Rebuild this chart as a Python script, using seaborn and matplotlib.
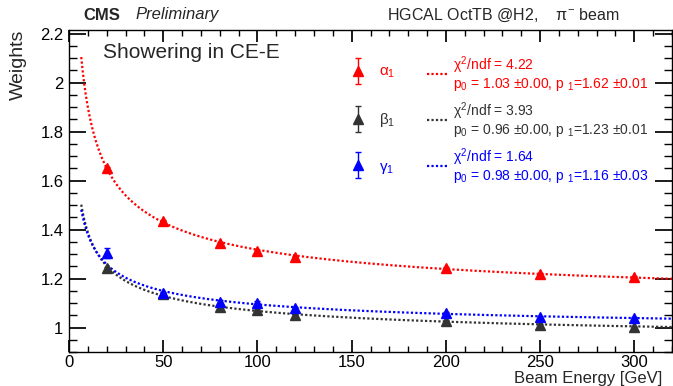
import numpy as np
import pandas as pd
import matplotlib
matplotlib.use("Agg")
import matplotlib.pyplot as plt
from matplotlib.ticker import MultipleLocator
from matplotlib.container import ErrorbarContainer
from matplotlib.legend_handler import HandlerErrorbar
import seaborn as sns

# ---- data ----
energy = [20, 50, 80, 100, 120, 200, 250, 300]
alpha1 = [1.650, 1.437, 1.345, 1.311, 1.290, 1.242, 1.219, 1.208]
beta1 = [1.243, 1.135, 1.085, 1.072, 1.052, 1.025, 1.009, 1.003]
gamma1 = [1.305, 1.140, 1.106, 1.102, 1.080, 1.060, 1.044, 1.039]
alpha1_err = [0.006, 0.004, 0.004, 0.004, 0.004, 0.004, 0.004, 0.004]
beta1_err = [0.006, 0.004, 0.004, 0.004, 0.004, 0.004, 0.004, 0.004]
gamma1_err = [0.020, 0.006, 0.005, 0.005, 0.005, 0.005, 0.005, 0.005]

series_names = ["alpha", "beta", "gamma"]
series_labels = [r"$\alpha_{1}$", r"$\beta_{1}$", r"$\gamma_{1}$"]
colors = ["#ff0000", "#333333", "#0000ff"]
fit_texts = [
    "$\\chi^{2}$/ndf = 4.22\np$_{0}$ = 1.03 $\\pm$0.00, p $_{1}$=1.62 $\\pm$0.01",
    "$\\chi^{2}$/ndf = 3.93\np$_{0}$ = 0.96 $\\pm$0.00, p $_{1}$=1.23 $\\pm$0.01",
    "$\\chi^{2}$/ndf = 1.64\np$_{0}$ = 0.98 $\\pm$0.00, p $_{1}$=1.16 $\\pm$0.03",
]
fit_range = (6.5, 320)

df = pd.concat([
    pd.DataFrame({"E": energy, "w": alpha1, "err": alpha1_err, "s": "alpha"}),
    pd.DataFrame({"E": energy, "w": beta1, "err": beta1_err, "s": "beta"}),
    pd.DataFrame({"E": energy, "w": gamma1, "err": gamma1_err, "s": "gamma"}),
])

# weighted least-squares fit  w = p0 + p1/sqrt(E)  for each series
E_curve = np.linspace(fit_range[0], fit_range[1], 400)
curves = []
for name in series_names:
    sub = df[df.s == name]
    wts = 1 / sub.err.values
    A = np.column_stack([np.ones(len(sub)), 1 / np.sqrt(sub.E.values)])
    coef, *_ = np.linalg.lstsq(A * wts[:, None], sub.w.values * wts, rcond=None)
    curves.append(pd.DataFrame({"E": E_curve,
                                "w": coef[0] + coef[1] / np.sqrt(E_curve),
                                "s": name}))
curve_df = pd.concat(curves)

sns.set_theme(style="ticks")
plt.rcParams["font.family"] = ["Liberation Sans", "DejaVu Sans"]
plt.rcParams["mathtext.fontset"] = "custom"
plt.rcParams["mathtext.rm"] = "Liberation Sans"
plt.rcParams["mathtext.it"] = "Liberation Sans"
plt.rcParams["mathtext.bf"] = "Liberation Sans:bold"

fig = plt.figure(figsize=(6.73, 3.86), dpi=100)
W, H = 673, 386
ax = fig.add_axes([69 / W, 1 - 352 / H, (672 - 69) / W, (352 - 30) / H])

line_handles = []
for name, col in zip(series_names, colors):
    sns.lineplot(data=curve_df[curve_df.s == name], x="E", y="w", ax=ax,
                 color=col, linestyle=(0, (1, 1)), linewidth=1.6, legend=False)
    line_handles.append(ax.lines[-1])

err_handles = []
for name, col in zip(series_names, colors):
    sub = df[df.s == name]
    h = ax.errorbar(sub.E, sub.w, yerr=sub.err, fmt="^", color=col, ms=7,
                    mec=col, elinewidth=1.0, capsize=2, zorder=5)
    err_handles.append(h)

ax.set_xlim(0, 320)
ax.set_ylim(0.9, 2.215)
ax.xaxis.set_major_locator(MultipleLocator(50))
ax.xaxis.set_minor_locator(MultipleLocator(10))
ax.yaxis.set_major_locator(MultipleLocator(0.2))
ax.yaxis.set_minor_locator(MultipleLocator(0.05))
ax.yaxis.set_major_formatter(plt.FuncFormatter(lambda v, p: f"{v:g}"))
ax.tick_params(which="both", direction="in", top=True, right=True,
               labelsize=12, colors="black")
ax.tick_params(axis="x", which="major", length=8.6, pad=2.5)
ax.tick_params(axis="x", which="minor", length=4.3)
ax.tick_params(axis="y", which="major", length=12, pad=4)
ax.tick_params(axis="y", which="minor", length=6)
for sp in ax.spines.values():
    sp.set_linewidth(1.0)
    sp.set_color("black")
ax.set_xlabel("")
ax.set_ylabel("")

# legends
leg1 = ax.legend(err_handles, series_labels, loc="upper left",
                 bbox_to_anchor=(353 / W, 1 - 65 / H), bbox_transform=fig.transFigure,
                 frameon=False, fontsize=11, handlelength=0.6, handletextpad=1.1,
                 labelspacing=2.0, borderpad=0, borderaxespad=0,
                 handler_map={ErrorbarContainer: HandlerErrorbar(yerr_size=0.85)})
for t, c in zip(leg1.get_texts(), colors):
    t.set_color(c)
ax.add_artist(leg1)
leg2 = ax.legend(line_handles, fit_texts, loc="upper left",
                 bbox_to_anchor=(427 / W, 1 - 54 / H), bbox_transform=fig.transFigure,
                 frameon=False, fontsize=10, handlelength=1.5, handletextpad=0.4,
                 labelspacing=0.55, borderpad=0, borderaxespad=0)
for t, c in zip(leg2.get_texts(), colors):
    t.set_color(c)
    t.set_linespacing(1.0)

fig.text(103 / W, 1 - 53 / H, "Showering in CE-E", fontsize=15,
         ha="left", va="center")
fig.text(83 / W, 1 - 15 / H, "CMS", fontsize=12, fontweight="bold",
         ha="left", va="center")
fig.text(135 / W, 1 - 15 / H, "Preliminary", fontsize=12, style="italic",
         ha="left", va="center")
fig.text(619 / W, 1 - 15 / H, "HGCAL OctTB @H2,    $\\pi^{-}$ beam", fontsize=11.5,
         ha="right", va="center")
fig.text(662 / W, 1 - 383.5 / H, "Beam Energy [GeV]", fontsize=12,
         ha="right", va="baseline")
fig.text(18 / W, 1 - 30 / H, "Weights", fontsize=14, rotation=90,
         ha="center", va="top")

fig.savefig("out.png", dpi=100)
